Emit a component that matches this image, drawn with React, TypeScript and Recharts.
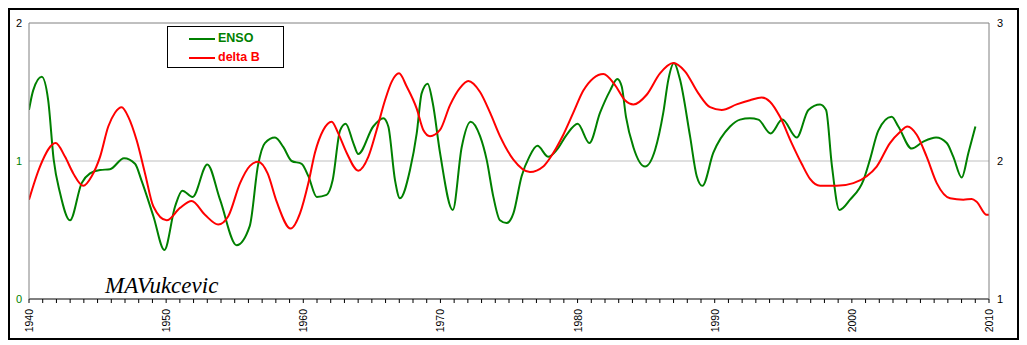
import React from "react";
import { LineChart, Line, XAxis, YAxis, ReferenceLine, CartesianGrid, Legend } from "recharts";

const ensoYears = [
  1940.0, 1940.3, 1940.93, 1941.4, 1941.8, 1942.26, 1942.99, 1943.84, 1944.45, 1945.18,
  1945.9, 1946.93, 1947.73, 1948.2, 1949.07, 1949.87, 1950.65, 1951.18, 1951.93, 1953.0,
  1953.93, 1955.14, 1956.1, 1956.7, 1957.2, 1957.94, 1958.55, 1959.15, 1959.88, 1960.37,
  1960.98, 1961.7, 1962.14, 1962.68, 1963.09, 1963.65, 1964.01, 1965.1, 1965.84, 1966.2,
  1966.69, 1967.05, 1967.78, 1968.27, 1968.63, 1969.07, 1969.44, 1969.97, 1970.9, 1971.55,
  1972.2, 1972.89, 1973.37, 1973.86, 1974.34, 1974.83, 1975.32, 1975.92, 1976.48, 1977.07,
  1977.87, 1978.48, 1979.2, 1980.01, 1980.86, 1981.64, 1982.37, 1982.9, 1983.22, 1983.53,
  1984.07, 1984.92, 1985.65, 1986.25, 1986.62, 1987.03, 1987.47, 1988.2, 1988.69, 1989.1,
  1989.9, 1991.12, 1991.85, 1992.57, 1993.18, 1994.08, 1994.93, 1995.98, 1996.83, 1997.68,
  1998.12, 1998.53, 1999.09, 1999.87, 2000.84, 2001.32, 2001.93, 2002.9, 2003.39, 2004.36,
  2005.21, 2006.14, 2006.92, 2007.4, 2008.01, 2008.5, 2009.01,
];
const ensoValues = [
  1.37, 1.51, 1.61, 1.44, 1.01, 0.77, 0.57, 0.84, 0.91, 0.935,
  0.94, 1.02, 0.98, 0.86, 0.6, 0.355, 0.67, 0.785, 0.74, 0.975,
  0.72, 0.39, 0.53, 0.97, 1.13, 1.17, 1.1, 1.0, 0.98, 0.89,
  0.74, 0.755, 0.86, 1.22, 1.27, 1.13, 1.05, 1.25, 1.31, 1.25,
  0.86, 0.73, 0.935, 1.2, 1.49, 1.56, 1.42, 1.06, 0.645, 1.1,
  1.285, 1.18, 1.01, 0.74, 0.57, 0.55, 0.62, 0.89, 1.03, 1.11,
  1.03, 1.08, 1.19, 1.27, 1.13, 1.35, 1.51, 1.595, 1.54, 1.32,
  1.1, 0.96, 1.08, 1.35, 1.59, 1.71, 1.59, 1.18, 0.89, 0.82,
  1.06, 1.25, 1.3, 1.31, 1.3, 1.2, 1.3, 1.17, 1.37, 1.41,
  1.37, 0.98, 0.645, 0.72, 0.86, 1.01, 1.22, 1.32, 1.25, 1.09,
  1.14, 1.17, 1.13, 1.03, 0.88, 1.06, 1.25,
];

const deltaBYears = [
  1940.0, 1940.8, 1941.94, 1942.63, 1943.23, 1943.96, 1944.57, 1945.18, 1945.78, 1946.27,
  1946.76, 1947.24, 1947.85, 1948.46, 1949.07, 1950.04, 1951.01, 1951.86, 1952.83, 1953.8,
  1954.53, 1955.39, 1956.11, 1956.7, 1957.4, 1958.06, 1959.08, 1959.76, 1960.37, 1960.85,
  1961.46, 1962.07, 1962.55, 1963.16, 1964.01, 1964.74, 1965.35, 1965.96, 1966.45, 1966.98,
  1967.54, 1968.27, 1968.75, 1969.24, 1969.97, 1970.7, 1971.43, 1972.03, 1972.89, 1973.62,
  1974.34, 1975.32, 1976.53, 1977.5, 1977.98, 1978.96, 1979.69, 1980.42, 1981.15, 1981.88,
  1982.73, 1983.46, 1984.07, 1985.04, 1986.01, 1986.98, 1987.83, 1988.81, 1989.66, 1990.51,
  1991.6, 1992.57, 1993.42, 1994.03, 1994.76, 1995.61, 1996.34, 1996.95, 1997.68, 1998.89,
  2000.11, 2001.08, 2001.81, 2002.78, 2003.51, 2004.05, 2004.73, 2005.46, 2006.19, 2007.16,
  2008.13, 2008.74, 2009.1, 2009.83, 2010.0,
];
const deltaBValues = [
  1.72, 1.96, 2.13, 2.03, 1.91, 1.82, 1.89, 2.03, 2.25, 2.35,
  2.39, 2.32, 2.15, 1.91, 1.67, 1.57, 1.66, 1.71, 1.61, 1.54,
  1.6, 1.84, 1.965, 1.995, 1.91, 1.705, 1.51, 1.62, 1.84, 2.06,
  2.225, 2.285, 2.2, 2.06, 1.93, 2.03, 2.225, 2.44, 2.575, 2.635,
  2.54, 2.38, 2.225, 2.18, 2.225, 2.405, 2.53, 2.58, 2.5, 2.35,
  2.18, 2.01, 1.92, 1.96, 2.02, 2.19, 2.35, 2.51, 2.6, 2.63,
  2.55, 2.44, 2.41, 2.48, 2.635, 2.71, 2.65, 2.49, 2.39, 2.37,
  2.41, 2.44, 2.46, 2.43, 2.32, 2.13, 1.98, 1.87, 1.82, 1.82,
  1.84, 1.89, 1.96, 2.13, 2.21, 2.25, 2.19, 2.03, 1.84, 1.73,
  1.72, 1.725, 1.705, 1.61, 1.61,
];

const xDomain = [1940, 2010];
const xLabelYears = [1940, 1950, 1960, 1970, 1980, 1990, 2000, 2010];
const xMinorTicks = Array.from({ length: 71 }, (_, i) => 1940 + i);
const leftTicks = [0, 1, 2];
const rightTicks = [1, 2, 3];
const leftTickColors: Record<number, string> = { 0: "#008000", 1: "#008000", 2: "#000000" };
const seriesNames = ["ENSO", "delta B"];
const watermark = "MAVukcevic";

const ensoData = ensoYears.map((year, i) => ({ year, enso: ensoValues[i] }));
const deltaBData = deltaBYears.map((year, i) => ({ year, deltaB: deltaBValues[i] }));

const FONT = "'Liberation Sans', Arial, sans-serif";

const XTick = (props: any) => {
  const { x, y, payload } = props;
  if (!xLabelYears.includes(payload.value)) return <g />;
  return (
    <text
      x={x}
      y={y + 4}
      transform={`rotate(-90, ${x}, ${y + 4})`}
      textAnchor="end"
      dominantBaseline="central"
      fontSize={10.5}
      fontFamily={FONT}
      fill="#000"
    >
      {payload.value}
    </text>
  );
};

const LeftTick = (props: any) => {
  const { x, y, payload } = props;
  return (
    <text x={x} y={y} textAnchor="end" dominantBaseline="central" fontSize={11} fontFamily={FONT} fill={leftTickColors[payload.value] || "#000"}>
      {payload.value}
    </text>
  );
};

const RightTick = (props: any) => {
  const { x, y, payload } = props;
  return (
    <text x={x} y={y} textAnchor="start" dominantBaseline="central" fontSize={11} fontFamily={FONT} fill="#000">
      {payload.value}
    </text>
  );
};

const LegendBox = (props: any) => {
  const payload = props.payload || [];
  return (
    <div
      style={{
        boxSizing: "border-box",
        width: 117,
        height: 42,
        border: "1px solid #000",
        background: "#fff",
        paddingTop: 2,
      }}
    >
      {payload.map((entry: any, i: number) => (
        <div key={i} style={{ display: "flex", alignItems: "center", height: 19 }}>
          <div style={{ marginLeft: 21, width: 26, height: 2, background: entry.color }} />
          <span
            style={{
              marginLeft: 3,
              fontFamily: FONT,
              fontWeight: "bold",
              fontSize: 12.5,
              color: entry.color,
              lineHeight: "19px",
            }}
          >
            {entry.value}
          </span>
        </div>
      ))}
    </div>
  );
};

export default function App() {
  return (
    <div
      style={{
        position: "relative",
        boxSizing: "border-box",
        width: 1011,
        height: 332,
        border: "2px solid #000",
        background: "#fff",
      }}
    >
      <LineChart width={1007} height={328} margin={{ top: 13, right: 0, bottom: 0, left: 0 }}>
        <CartesianGrid yAxisId="left" vertical={false} horizontalValues={[1]} stroke="#c0c0c0" />
        <XAxis
          type="number"
          dataKey="year"
          domain={xDomain}
          ticks={xMinorTicks}
          interval={0}
          allowDataOverflow
          height={39}
          tickSize={4}
          tickMargin={2}
          axisLine={{ stroke: "#000" }}
          tickLine={{ stroke: "#000" }}
          tick={<XTick />}
        />
        <YAxis
          yAxisId="left"
          domain={[0, 2]}
          ticks={leftTicks}
          width={19}
          tickSize={0}
          tickMargin={7}
          axisLine={{ stroke: "#808080" }}
          tickLine={false}
          tick={<LeftTick />}
          allowDataOverflow
        />
        <YAxis
          yAxisId="right"
          orientation="right"
          domain={[1, 3]}
          ticks={rightTicks}
          width={28}
          tickSize={0}
          tickMargin={8}
          axisLine={{ stroke: "#808080" }}
          tickLine={false}
          tick={<RightTick />}
          allowDataOverflow
        />
        <ReferenceLine yAxisId="left" y={2} stroke="#808080" />
        <Line
          yAxisId="left"
          data={ensoData}
          dataKey="enso"
          name={seriesNames[0]}
          type="monotone"
          stroke="#008000"
          strokeWidth={2}
          dot={false}
          isAnimationActive={false}
        />
        <Line
          yAxisId="right"
          data={deltaBData}
          dataKey="deltaB"
          name={seriesNames[1]}
          type="monotone"
          stroke="#ff0000"
          strokeWidth={2}
          dot={false}
          isAnimationActive={false}
        />
        <Legend
          layout="horizontal"
          verticalAlign="middle"
          align="center"
          content={<LegendBox />}
          wrapperStyle={{ left: 157, top: 16, width: 117, height: 42 }}
        />
      </LineChart>
      <div
        style={{
          position: "absolute",
          left: 95,
          top: 264,
          fontFamily: "'Liberation Serif', 'DejaVu Serif', serif",
          fontStyle: "italic",
          fontSize: 23,
          lineHeight: "23px",
          color: "#000",
          whiteSpace: "nowrap",
        }}
      >
        {watermark}
      </div>
    </div>
  );
}
